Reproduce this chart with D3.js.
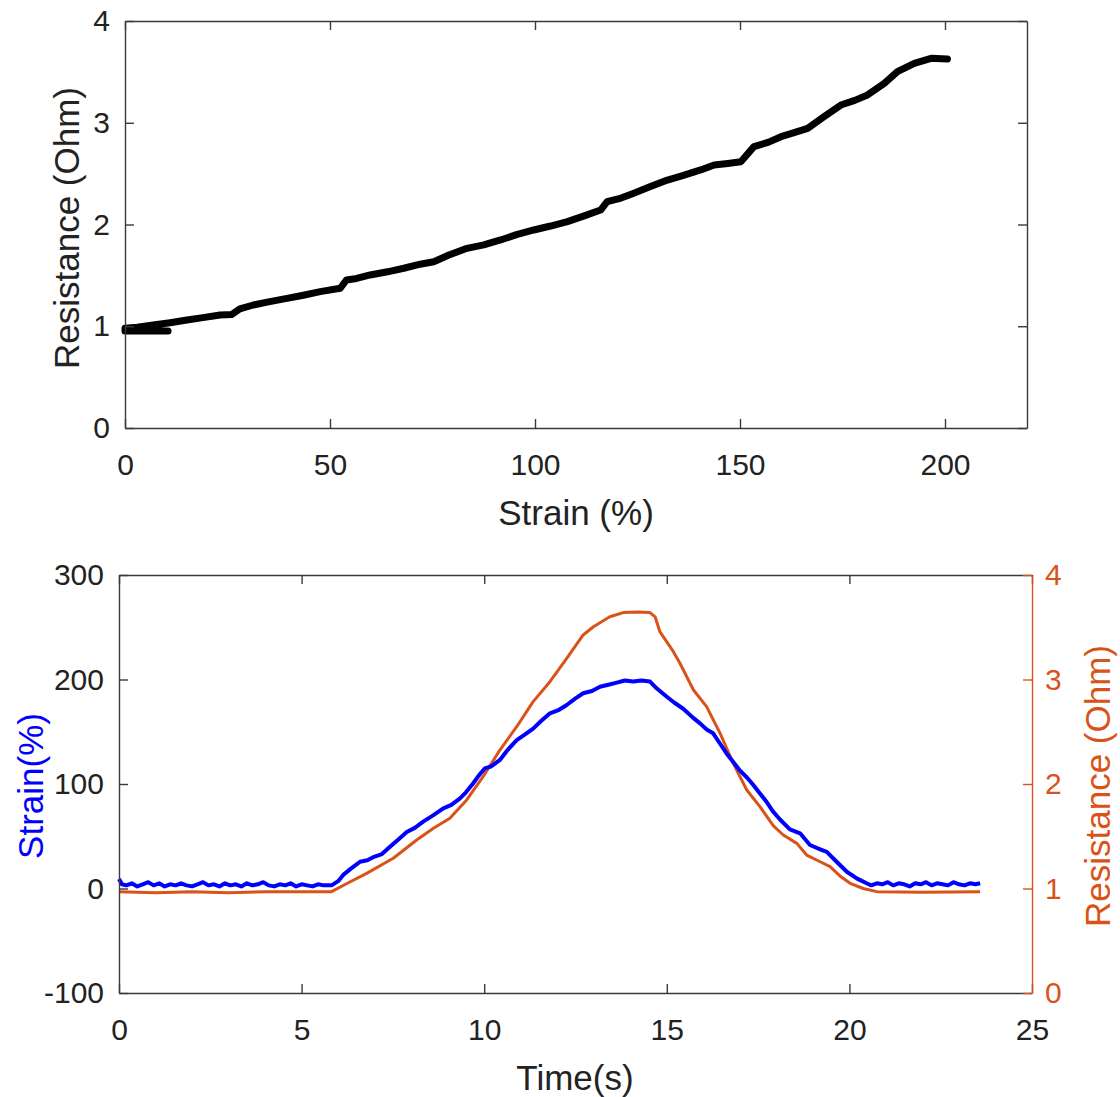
<!DOCTYPE html>
<html>
<head>
<meta charset="utf-8">
<script src="https://cdn.jsdelivr.net/npm/d3@7"></script>
<style>
  body { margin: 0; background: #fff; }
  text { font-family: "Liberation Sans", Arial, Helvetica, sans-serif; }
</style>
</head>
<body>
<div id="chart"></div>
<script>
// top panel: resistance vs strain
var strainPct = [10.5, 0, 0, 3, 6.9, 11, 15.1, 19, 23.2, 26, 28, 31.3, 35, 39.5, 43.5, 47.6, 52.5, 54, 56.5, 59.8,
  64, 68, 72, 75.3, 79, 83.4, 87.5, 91.6, 95.5, 99.7, 103.8, 107.9, 112, 116, 117.6, 121, 124.1, 128, 132.3, 136,
  140.4, 143.7, 147, 150.2, 153.4, 157, 160, 163, 166.5, 170.5, 174.6, 178, 181.1, 185.2, 188.4, 192.5, 196.6, 200.6];
var resistOhm = [0.953, 0.953, 0.98, 0.99, 1.012, 1.035, 1.061, 1.085, 1.11, 1.115, 1.17, 1.209, 1.24, 1.274, 1.305, 1.34, 1.373, 1.455, 1.47, 1.504,
  1.535, 1.57, 1.61, 1.634, 1.70, 1.766, 1.80, 1.848, 1.90, 1.946, 1.985, 2.028, 2.085, 2.142, 2.224, 2.26, 2.307, 2.37, 2.437, 2.48,
  2.536, 2.585, 2.60, 2.617, 2.765, 2.81, 2.863, 2.90, 2.945, 3.06, 3.174, 3.22, 3.273, 3.388, 3.502, 3.584, 3.633, 3.627];

// bottom panel: strain over time (blue)
var timeS = [0, 0.08, 0.2, 0.35, 0.5, 0.65, 0.8, 0.95, 1.1, 1.25, 1.4, 1.55, 1.7, 1.85, 2.0, 2.15, 2.3, 2.45, 2.6, 2.75, 2.9,
  3.05, 3.2, 3.35, 3.5, 3.65, 3.8, 3.95, 4.1, 4.25, 4.4, 4.55, 4.7, 4.85, 5.0, 5.15, 5.3, 5.45, 5.6, 5.82,
  6.0, 6.14, 6.35, 6.6, 6.8, 6.96, 7.2, 7.42, 7.65, 7.88, 8.1, 8.33, 8.6, 8.88, 9.1, 9.33, 9.5, 9.7, 9.85, 10.02, 10.2, 10.43, 10.65, 10.89,
  11.1, 11.34, 11.55, 11.8, 12.05, 12.26, 12.5, 12.71, 12.95, 13.17, 13.4, 13.63, 13.85, 14.08, 14.3, 14.54, 14.72, 15.0, 15.2, 15.45,
  15.7, 15.91, 16.1, 16.27, 16.45, 16.64, 16.82, 17.0, 17.2, 17.37, 17.55, 17.73, 17.9, 18.1, 18.37, 18.65, 18.92, 19.2, 19.38, 19.65,
  19.93, 20.2, 20.47, 20.6, 20.75, 20.9, 21.05, 21.2, 21.35, 21.5, 21.65, 21.8, 21.95, 22.1, 22.25, 22.4, 22.55, 22.7, 22.85, 23.0,
  23.15, 23.3, 23.45, 23.58];
var strainS = [9, 4, 3, 5, 2, 4, 6, 3, 5, 2, 4, 3, 5, 3, 2, 4, 6, 3, 4, 2, 5,
  3, 4, 2, 5, 3, 4, 6, 3, 2, 4, 3, 5, 2, 4, 3, 2, 4, 3, 3,
  7, 13, 19, 25.6, 27, 30, 33, 40, 47, 54, 58, 64, 70, 76.7, 80, 86, 92, 100.7, 108, 115, 117, 123, 133, 142,
  147, 153, 160, 167.6, 171, 175.6, 182, 186.8, 189, 193, 195, 197, 199, 198, 199, 198, 191.6, 183.5, 178, 172,
  164, 158, 152, 148.5, 139, 129, 121, 113, 106, 99, 91, 83, 74, 66, 56.5, 52.8, 41.6, 37.5, 35, 25.6,
  16, 9.7, 5, 3, 5, 4, 6, 3, 5, 4, 2, 5, 4, 6, 3, 5, 4, 3, 6, 4,
  3, 5, 4, 5];

// bottom panel: resistance over time (orange)
var timeR = [0, 1, 2, 3, 4, 5, 5.82, 6.32, 6.78, 7.51, 8.15, 8.61, 9.06, 9.52, 9.97, 10.43, 10.89, 11.34, 11.8, 12.26, 12.71, 12.99,
  13.44, 13.81, 14.2, 14.54, 14.68, 14.81, 15.18, 15.36, 15.73, 16.09, 16.46, 16.82, 17.19, 17.55, 17.92, 18.19, 18.56, 18.83, 19.2,
  19.47, 19.74, 20.02, 20.38, 20.75, 22, 23.58];
var resistR = [0.97, 0.96, 0.97, 0.96, 0.97, 0.97, 0.97, 1.062, 1.145, 1.289, 1.464, 1.576, 1.672, 1.847, 2.07, 2.325, 2.548, 2.788, 2.979, 3.203, 3.426, 3.505,
  3.60, 3.64, 3.645, 3.64, 3.60, 3.458, 3.266, 3.155, 2.9, 2.74, 2.485, 2.198, 1.943, 1.783, 1.60, 1.512, 1.432, 1.32, 1.256,
  1.21, 1.12, 1.05, 1.0, 0.97, 0.965, 0.97];

var xTopTicks = [0, 50, 100, 150, 200];
var yTopTicks = [0, 1, 2, 3, 4];
var xBotTicks = [0, 5, 10, 15, 20, 25];
var yLeftTicks = [-100, 0, 100, 200, 300];
var yRightTicks = [0, 1, 2, 3, 4];

var ORANGE = "#D95319", BLUE = "#0000FF", AX = "#3a3a3a", TXT = "#222";
var plain = function(d) { return String(d); };

var svg = d3.select("#chart").append("svg").attr("width", 1120).attr("height", 1097)
  .style("background", "#fff");

function styleAxis(g, color) {
  g.selectAll(".domain").attr("stroke", color).attr("stroke-width", 1.4);
  g.selectAll(".tick line").attr("stroke", color).attr("stroke-width", 1.4);
  g.selectAll(".tick text").attr("fill", color === AX ? TXT : color)
    .style("font-size", "30px");
}

// ---------- top panel
var xTop = d3.scaleLinear().domain([0, 220]).range([125, 1027]);
var yTop = d3.scaleLinear().domain([0, 4]).range([428, 21]);

var topData = strainPct.map(function(d, i) { return [d, resistOhm[i]]; });
svg.append("path").datum(topData)
  .attr("fill", "none").attr("stroke", "#000").attr("stroke-width", 7)
  .attr("stroke-linejoin", "round").attr("stroke-linecap", "round")
  .attr("d", d3.line().x(function(d) { return xTop(d[0]); }).y(function(d) { return yTop(d[1]); }));

svg.append("g").attr("transform", "translate(0,428)")
  .call(d3.axisBottom(xTop).tickValues(xTopTicks).tickSize(-9).tickSizeOuter(0).tickPadding(26).tickFormat(plain))
  .call(styleAxis, AX);
svg.append("g").attr("transform", "translate(0,21)")
  .call(d3.axisTop(xTop).tickValues(xTopTicks).tickSize(-9).tickSizeOuter(0).tickFormat(""))
  .call(styleAxis, AX);
svg.append("g").attr("transform", "translate(125,0)")
  .call(d3.axisLeft(yTop).tickValues(yTopTicks).tickSize(-9).tickSizeOuter(0).tickPadding(15).tickFormat(plain))
  .call(styleAxis, AX);
svg.append("g").attr("transform", "translate(1027,0)")
  .call(d3.axisRight(yTop).tickValues(yTopTicks).tickSize(-9).tickSizeOuter(0).tickFormat(""))
  .call(styleAxis, AX);

svg.append("text").attr("x", 576).attr("y", 525).attr("text-anchor", "middle")
  .style("font-size", "35px").attr("fill", TXT).text("Strain (%)");
svg.append("text").attr("transform", "translate(79,228) rotate(-90)").attr("text-anchor", "middle")
  .style("font-size", "35px").attr("fill", TXT).text("Resistance (Ohm)");

// ---------- bottom panel
var xBot = d3.scaleLinear().domain([0, 25]).range([119, 1032]);
var yL = d3.scaleLinear().domain([-100, 300]).range([993, 575]);
var yR = d3.scaleLinear().domain([0, 4]).range([993, 575]);

svg.append("path").datum(timeR.map(function(d, i) { return [d, resistR[i]]; }))
  .attr("fill", "none").attr("stroke", ORANGE).attr("stroke-width", 3)
  .attr("stroke-linejoin", "round")
  .attr("d", d3.line().x(function(d) { return xBot(d[0]); }).y(function(d) { return yR(d[1]); }));

svg.append("path").datum(timeS.map(function(d, i) { return [d, strainS[i]]; }))
  .attr("fill", "none").attr("stroke", BLUE).attr("stroke-width", 4)
  .attr("stroke-linejoin", "round")
  .attr("d", d3.line().x(function(d) { return xBot(d[0]); }).y(function(d) { return yL(d[1]); }));

svg.append("g").attr("transform", "translate(0,993)")
  .call(d3.axisBottom(xBot).tickValues(xBotTicks).tickSize(-9).tickSizeOuter(0).tickPadding(26).tickFormat(plain))
  .call(styleAxis, AX);
svg.append("g").attr("transform", "translate(0,575)")
  .call(d3.axisTop(xBot).tickValues(xBotTicks).tickSize(-9).tickSizeOuter(0).tickFormat(""))
  .call(styleAxis, AX);
svg.append("g").attr("transform", "translate(119,0)")
  .call(d3.axisLeft(yL).tickValues(yLeftTicks).tickSize(-9).tickSizeOuter(0).tickPadding(15).tickFormat(plain))
  .call(styleAxis, AX);
svg.append("g").attr("transform", "translate(1032,0)")
  .call(d3.axisRight(yR).tickValues(yRightTicks).tickSize(-9).tickSizeOuter(0).tickPadding(13).tickFormat(plain))
  .call(styleAxis, ORANGE);

svg.append("text").attr("x", 575).attr("y", 1090).attr("text-anchor", "middle")
  .style("font-size", "35px").attr("fill", TXT).text("Time(s)");
svg.append("text").attr("transform", "translate(43,786) rotate(-90)").attr("text-anchor", "middle")
  .style("font-size", "35px").attr("fill", BLUE).text("Strain(%)");
svg.append("text").attr("transform", "translate(1110,786) rotate(-90)").attr("text-anchor", "middle")
  .style("font-size", "35px").attr("fill", ORANGE).text("Resistance (Ohm)");
</script>
</body>
</html>
